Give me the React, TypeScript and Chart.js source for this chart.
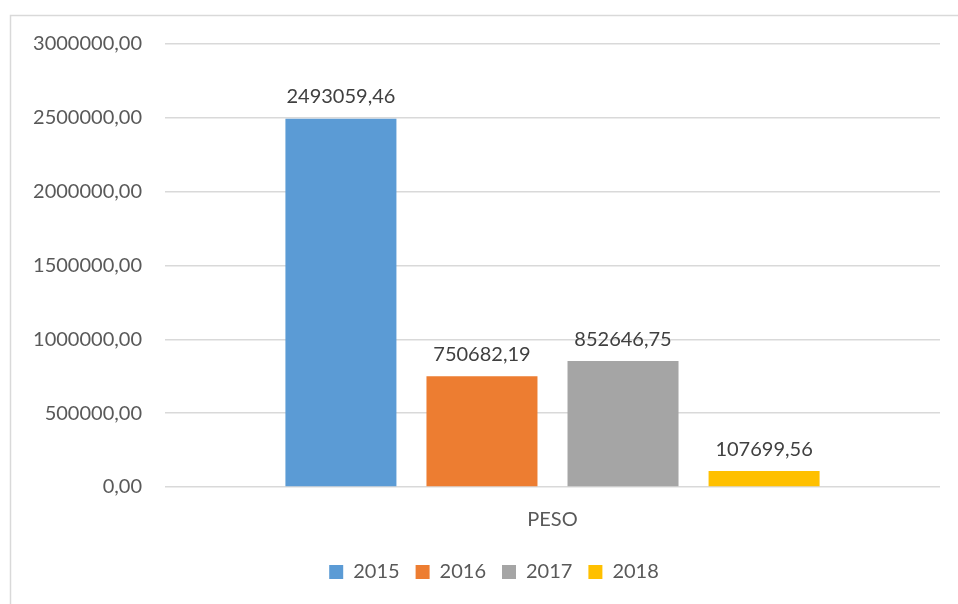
import React, { useEffect, useRef } from "react";
import { Chart, registerables } from "chart.js";

Chart.register(...registerables);

const categories = ["PESO"];
const seriesNames = ["2015", "2016", "2017", "2018"];
const values2015 = [2493059.46];
const values2016 = [750682.19];
const values2017 = [852646.75];
const values2018 = [107699.56];
const seriesColors = ["#5B9BD5", "#ED7D31", "#A5A5A5", "#FFC000"];
const yMin = 0;
const yMax = 3000000;
const yStep = 500000;

const FONT = "Lato, 'Open Sans', sans-serif";

const fmt = (v: number) => v.toFixed(2).replace(".", ",");

const frameAndLabels = {
  id: "frameAndLabels",
  afterLayout(chart: any) {
    if (chart.legend) {
      chart.legend.left += 30;
      chart.legend.right += 0;
    }
  },
  beforeDraw(chart: any) {
    const ctx = chart.ctx;
    ctx.save();
    ctx.strokeStyle = "#d9d9d9";
    ctx.lineWidth = 1.5;
    ctx.beginPath();
    ctx.moveTo(10.5, chart.height + 2);
    ctx.lineTo(10.5, 15.5);
    ctx.lineTo(chart.width + 2, 15.5);
    ctx.stroke();
    ctx.restore();
  },
  afterDatasetsDraw(chart: any) {
    const ctx = chart.ctx;
    ctx.save();
    ctx.font = `20px ${FONT}`;
    ctx.fillStyle = "#404040";
    ctx.textAlign = "center";
    ctx.textBaseline = "middle";
    chart.data.datasets.forEach((ds: any, i: number) => {
      const meta = chart.getDatasetMeta(i);
      meta.data.forEach((bar: any, j: number) => {
        ctx.fillText(fmt(ds.data[j]), bar.x, bar.y - 22);
      });
    });
    ctx.restore();
  },
};

export default function App() {
  const ref = useRef<HTMLCanvasElement | null>(null);
  useEffect(() => {
    if (!ref.current) return;
    const allSeries = [values2015, values2016, values2017, values2018];
    const chart = new Chart(ref.current, {
      type: "bar",
      data: {
        labels: categories,
        datasets: seriesNames.map((name, i) => ({
          label: name,
          data: allSeries[i],
          backgroundColor: seriesColors[i],
          borderWidth: 0,
          categoryPercentage: 0.728,
          barPercentage: 0.787,
        })),
      },
      options: {
        responsive: false,
        animation: false,
        layout: { padding: { left: 18, right: 18, top: 44, bottom: 12 } },
        plugins: {
          tooltip: { enabled: false },
          legend: {
            position: "bottom",
            labels: {
              boxWidth: 14,
              boxHeight: 14,
              padding: 16,
              color: "#595959",
              font: { family: FONT, size: 20 },
            },
          },
        },
        scales: {
          x: {
            grid: { display: false },
            border: { display: false },
            ticks: { color: "#595959", font: { family: FONT, size: 20 }, padding: 13 },
            afterFit(scale: any) {
              scale.height = 59;
            },
          },
          y: {
            min: yMin,
            max: yMax,
            ticks: {
              stepSize: yStep,
              color: "#595959",
              font: { family: FONT, size: 20 },
              padding: 23,
              callback: (v: any) => fmt(Number(v)),
            },
            grid: { color: "#d9d9d9", lineWidth: 1.5, drawTicks: false },
            border: { display: false },
            afterFit(scale: any) {
              scale.width = 147;
            },
          },
        },
      },
      plugins: [frameAndLabels],
    } as any);
    return () => chart.destroy();
  }, []);
  return (
    <div style={{ position: "fixed", left: 0, top: 0, width: 958, height: 604, background: "#fff" }}>
      <canvas ref={ref} width={958} height={604} style={{ display: "block" }} />
    </div>
  );
}
